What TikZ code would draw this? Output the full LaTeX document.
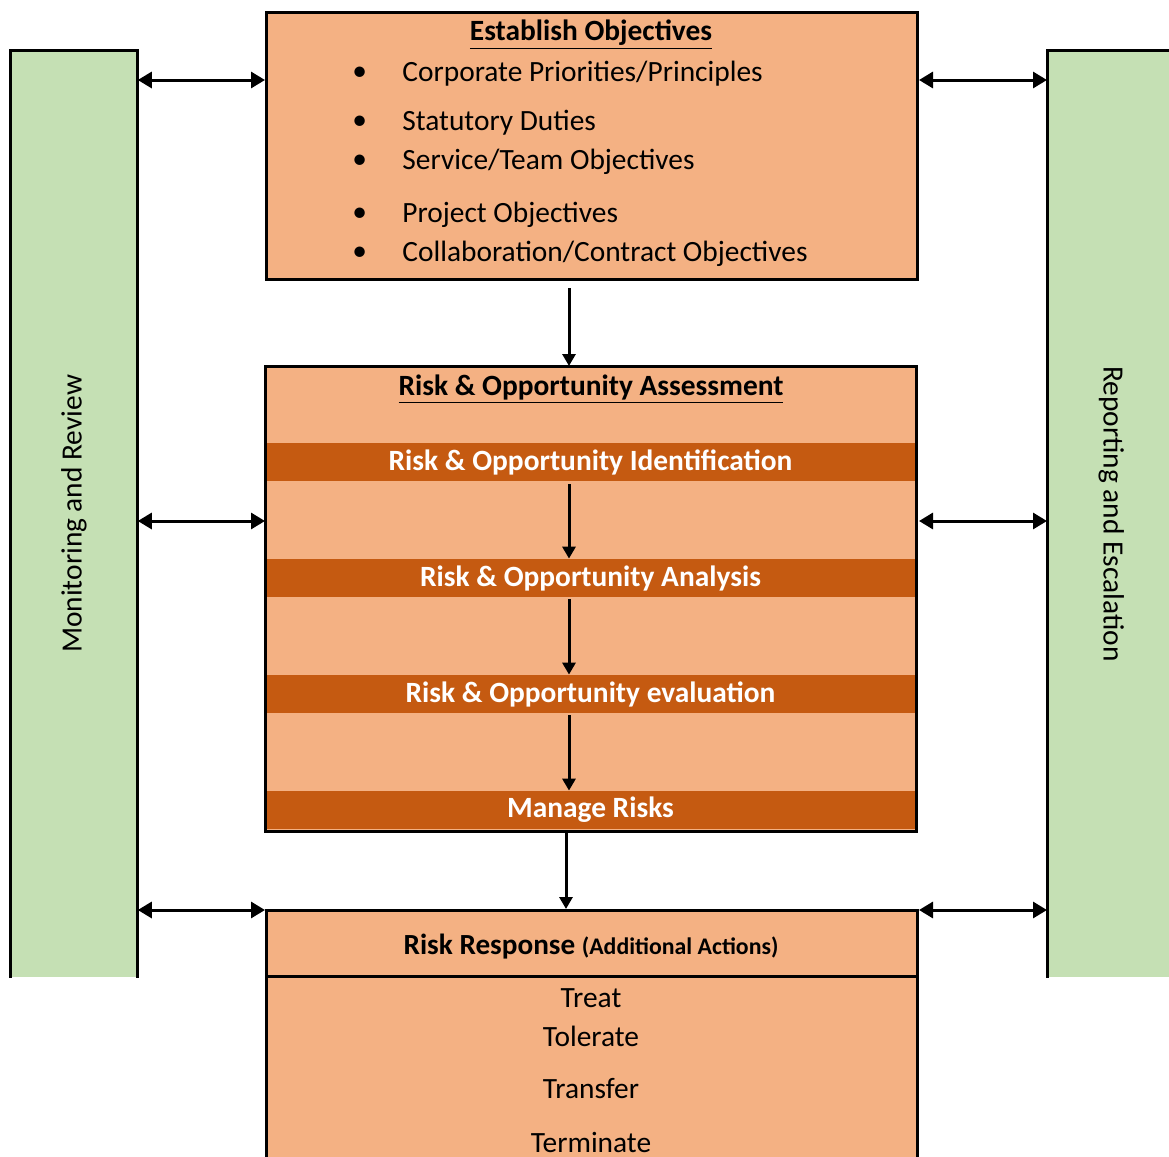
\documentclass[tikz,border=0pt]{standalone}
\usepackage{fontspec}
\setmainfont{Carlito}
\usetikzlibrary{arrows.meta}
\definecolor{boxorange}{HTML}{F4B183}
\definecolor{bandorange}{HTML}{C55A11}
\definecolor{bargreen}{HTML}{C5E0B4}
\newcommand{\txt}{\fontsize{14.7}{17}\selectfont}
\tikzstyle{stagebox} = [fill=boxorange, draw=black, line width=1.5pt, rectangle, anchor=north west, minimum width=325.5pt, inner sep=0pt]
\tikzstyle{band} = [fill=bandorange, text=white, font=\txt\bfseries, minimum width=324pt, minimum height=19pt, inner sep=0pt]
\tikzstyle{sidebar} = [fill=bargreen, rectangle, anchor=north west, minimum height=463.5pt, inner sep=0pt]
\tikzstyle{link} = [line width=1.5pt, {Triangle[length=7pt,width=8pt]}-{Triangle[length=7pt,width=8pt]}]
\tikzstyle{flow} = [line width=1.5pt, -{Triangle[length=6pt,width=6.5pt]}]
\tikzstyle{item} = [anchor=west, inner sep=0pt, font=\txt]
\tikzstyle{title} = [inner sep=0pt, font=\txt\bfseries]

\begin{document}
\begin{tikzpicture}[x=0.5pt, y=-0.5pt]
	\clip (0,0) rectangle (1169,1157);
	% side bars
	\node[sidebar, minimum width=63.5pt] (mon) at (10,50) {};
	\node[sidebar, minimum width=64pt] (rep) at (1047,50) {};
	\draw[line width=1.5pt] (mon.south west) -- (mon.north west) -- (mon.north east) -- (mon.south east);
	\draw[line width=1.5pt] (rep.south west) -- (rep.north west) -- (rep.north east);
	\node[rotate=90, font=\txt] at (mon.center) {Monitoring and Review};
	\node[rotate=-90, font=\txt] at (rep.center) {Reporting and Escalation};

	% objectives
	\node[stagebox, minimum height=133.5pt] (obj) at (265,11) {};
	\node[title] (objtitle) at (591,35) {\underline{Establish Objectives}};
	\foreach \y/\t [count=\i] in {74/{Corporate Priorities/Principles}, 123/{Statutory Duties}, 162/{Service/Team Objectives}, 215/{Project Objectives}, 254/{Collaboration/Contract Objectives}}{
		\node[item] (bul\i) at (352,\y) {\textbullet};
		\node[item] (obj\i) at (402,\y) {\t};
	}

	% assessment
	\node[stagebox, draw=none, outer sep=0pt, minimum height=232.5pt] (assess) at (265,366) {};
	\node[title] (asstitle) at (591,389) {\underline{Risk \& Opportunity Assessment}};
	\node[band] (ident) at (590.5,462) {Risk \& Opportunity Identification};
	\node[band] (anal) at (590.5,578) {Risk \& Opportunity Analysis};
	\node[band] (eval) at (590.5,694) {Risk \& Opportunity evaluation};
	\node[band] (manage) at (590.5,810) {Manage Risks};
	\draw[line width=1.5pt] (assess.north west) rectangle (assess.south east);

	% response
	\node[stagebox, minimum height=130pt] (resp) at (265,909) {};
	\draw[line width=1.5pt] (resp.west |- 0,976) coordinate (divl) -- (resp.east |- divl);
	\node[title] (resptitle) at (591,947) {{\fontsize{14.6}{17}\selectfont Risk Response} {\fontsize{11.9}{14}\selectfont (Additional Actions)}};
	\node[font=\txt, inner sep=0pt] (treat) at (591,998) {Treat};
	\node[font=\txt, inner sep=0pt] (tol) at (591,1036) {Tolerate};
	\node[font=\txt, inner sep=0pt] (trans) at (591,1089) {Transfer};
	\node[font=\txt, inner sep=0pt] (term) at (591,1142) {Terminate};

	% connectors
	\coordinate (ax) at (569,0);
	\draw[flow] (obj.south -| ax) ++(0,7) -- (assess.north -| ax);
	\draw[flow] (ident.south -| ax) ++(0,3) -- (anal.north -| ax);
	\draw[flow] (anal.south -| ax) ++(0,2) -- (eval.north -| ax);
	\draw[flow] (eval.south -| ax) ++(0,2) -- (manage.north -| ax);
	\draw[flow] (assess.south -| {566,0}) -- (resp.north -| {566,0});
	\foreach \y in {80,521,910}{
		\draw[link] (mon.east |- {0,\y}) -- (obj.west |- {0,\y});
		\draw[link] (obj.east |- {0,\y}) -- (rep.west |- {0,\y});
	}
\end{tikzpicture}
\end{document}
